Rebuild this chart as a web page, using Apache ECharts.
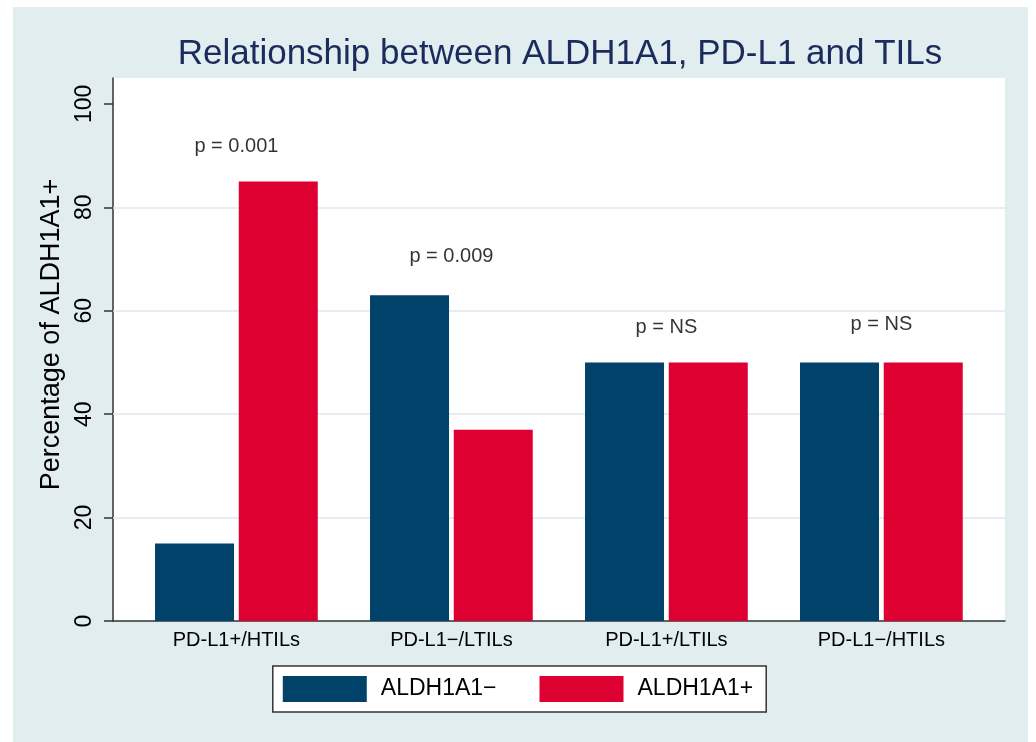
<!DOCTYPE html>
<html>
<head>
<meta charset="utf-8">
<script src="https://cdn.jsdelivr.net/npm/echarts@6/dist/echarts.min.js"></script>
<style>
html, body { margin: 0; padding: 0; background: #ffffff; }
#bg { position: absolute; left: 13px; top: 7px; width: 1015px; height: 735px; background: #e1edef; }
#chart { position: absolute; left: 0; top: 0; width: 1036px; height: 742px; }
</style>
</head>
<body>
<div id="bg"></div>
<div id="chart"></div>
<script>
const titleText = 'Relationship between ALDH1A1, PD-L1 and TILs';
const yAxisTitle = 'Percentage of ALDH1A1+';
const categories = ['PD-L1+/HTILs', 'PD-L1\u2212/LTILs', 'PD-L1+/LTILs', 'PD-L1\u2212/HTILs'];
const seriesNames = ['ALDH1A1\u2212', 'ALDH1A1+'];
const negValues = [15, 63, 50, 50];
const posValues = [85, 37, 50, 50];
const pLabels = ['p = 0.001', 'p = 0.009', 'p = NS', 'p = NS'];
const pLabelY = [91.7, 70.4, 56.7, 57.3];
const yTicks = [0, 20, 40, 60, 80, 100];
const gridValues = [20, 40, 60, 80];
const xTicks = [0, 1, 2, 3];

const FONT = 'Liberation Sans, Arial, Helvetica, sans-serif';
const chart = echarts.init(document.getElementById('chart'), null, { renderer: 'canvas' });

const option = {
  backgroundColor: 'transparent',
  animation: false,
  textStyle: { fontFamily: FONT },
  title: {
    text: titleText,
    left: 555,
    textAlign: 'center',
    top: 32,
    textStyle: { fontSize: 35, fontWeight: 'normal', color: '#1a2b5c', fontFamily: FONT }
  },
  legend: {
    data: seriesNames,
    left: 'center',
    top: 666,
    icon: 'rect',
    itemWidth: 84,
    itemHeight: 26,
    itemGap: 43,
    padding: [10, 13, 10, 10],
    backgroundColor: '#ffffff',
    borderColor: '#333333',
    borderWidth: 1.5,
    textStyle: { fontSize: 23, color: '#000', fontFamily: FONT, padding: [0, 0, 0, 9] }
  },
  grid: {
    left: 113, right: 31, top: 78, bottom: 121,
    show: true, backgroundColor: '#ffffff', borderWidth: 0,
    containLabel: false
  },
  xAxis: {
    type: 'value',
    min: -0.574,
    max: 3.575,
    axisLine: { show: true, onZero: false, lineStyle: { color: '#333', width: 1.5 } },
    axisTick: { show: false },
    splitLine: { show: false },
    axisLabel: {
      customValues: xTicks,
      formatter: v => categories[Math.round(v)],
      fontSize: 20, color: '#000', margin: 9, fontFamily: FONT
    }
  },
  yAxis: {
    type: 'value',
    min: 0,
    max: 105,
    interval: 20,
    name: yAxisTitle,
    nameLocation: 'middle',
    nameGap: 48,
    nameTextStyle: { fontSize: 27, color: '#000', fontFamily: FONT, padding: [0, 0, 0, 30] },
    axisLine: { show: true, onZero: false, lineStyle: { color: '#333', width: 1.5 } },
    axisTick: { show: true, customValues: yTicks, length: 9, lineStyle: { color: '#333', width: 1.5 } },
    splitLine: { show: false },
    axisLabel: {
      customValues: yTicks,
      rotate: 90,
      fontSize: 23, color: '#000', margin: 17, fontFamily: FONT
    }
  },
  series: [
    {
      name: seriesNames[0],
      type: 'bar',
      data: categories.map((c, i) => [i, negValues[i]]),
      barWidth: 79,
      barGap: '6%',
      itemStyle: { color: '#01426a' },
      z: 2,
      markLine: {
        silent: true,
        z: 1,
        symbol: ['none', 'none'],
        label: { show: false },
        lineStyle: { color: '#dce9ed', width: 1.5, type: 'solid' },
        data: gridValues.map(v => ({ yAxis: v }))
      }
    },
    {
      name: seriesNames[1],
      type: 'bar',
      data: categories.map((c, i) => [i, posValues[i]]),
      barWidth: 79,
      barGap: '6%',
      itemStyle: { color: '#dd0031' },
      z: 2
    },
    {
      name: 'p-values',
      type: 'scatter',
      data: categories.map((c, i) => ({ value: [i, pLabelY[i]], name: pLabels[i] })),
      symbolSize: 1,
      itemStyle: { color: 'transparent' },
      z: 3,
      label: {
        show: true,
        position: 'inside',
        formatter: p => p.name,
        fontSize: 20,
        color: '#000',
        textBorderWidth: 0,
        fontFamily: FONT
      }
    }
  ]
};
chart.setOption(option);
</script>
</body>
</html>
